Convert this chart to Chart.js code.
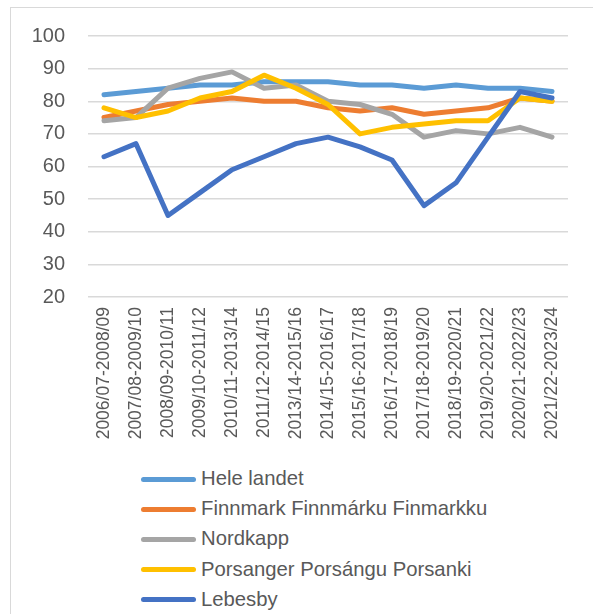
<!DOCTYPE html>
<html>
<head>
<meta charset="utf-8">
<script src="https://cdn.jsdelivr.net/npm/chart.js@4/dist/chart.umd.min.js"></script>
<style>
  body { margin: 0; background: #fff; font-family: "Liberation Sans", Arial, sans-serif; }
  #frame { position: absolute; left: 10px; top: 7px; width: 600px; height: 620px; border: 1px solid #d9d9d9; }
  #wrap { position: absolute; left: 0; top: 0; width: 593px; height: 460px; }
  #legend { position: absolute; left: 141px; top: 464px; }
  .item { position: relative; height: 30.2px; }
  .swatch { position: absolute; left: 0; top: 12.5px; width: 55px; height: 5px; border-radius: 3px; }
  .label { position: absolute; left: 60px; top: 3px; font-size: 20.3px; color: #595959; white-space: nowrap; }
</style>
</head>
<body>
<div id="frame"></div>
<div id="wrap"><canvas id="chart"></canvas></div>
<div id="legend"></div>
<script>
// Treårsperioder
const periods = ['2006/07-2008/09', '2007/08-2009/10', '2008/09-2010/11', '2009/10-2011/12',
  '2010/11-2013/14', '2011/12-2014/15', '2013/14-2015/16', '2014/15-2016/17', '2015/16-2017/18',
  '2016/17-2018/19', '2017/18-2019/20', '2018/19-2020/21', '2019/20-2021/22', '2020/21-2022/23',
  '2021/22-2023/24'];

const seriesNames = ['Hele landet', 'Finnmark Finnmárku Finmarkku', 'Nordkapp',
  'Porsanger Porsángu Porsanki', 'Lebesby'];
const seriesColors = ['#5B9BD5', '#ED7D31', '#A5A5A5', '#FFC000', '#4472C4'];

const heleLandet = [82, 83, 84, 85, 85, 86, 86, 86, 85, 85, 84, 85, 84, 84, 83];
const finnmark   = [75, 77, 79, 80, 81, 80, 80, 78, 77, 78, 76, 77, 78, 81, 80];
const nordkapp   = [74, 75, 84, 87, 89, 84, 85, 80, 79, 76, 69, 71, 70, 72, 69];
const porsanger  = [78, 75, 77, 81, 83, 88, 84, 79, 70, 72, 73, 74, 74, 81, 80];
const lebesby    = [63, 67, 45, 52, 59, 63, 67, 69, 66, 62, 48, 55, 69, 83, 81];

const yTicks = [20, 30, 40, 50, 60, 70, 80, 90, 100];

const seriesValues = [heleLandet, finnmark, nordkapp, porsanger, lebesby];

const datasets = seriesValues.map((vals, i) => ({
  label: seriesNames[i],
  data: vals,
  borderColor: seriesColors[i],
  backgroundColor: seriesColors[i],
  borderWidth: 5,
  borderCapStyle: 'round',
  borderJoinStyle: 'round',
  pointRadius: 0,
  tension: 0,
  fill: false,
  order: seriesValues.length - i   // siste serie tegnes øverst
}));

const txt = '#595959';

new Chart(document.getElementById('chart'), {
  type: 'line',
  data: { labels: periods, datasets: datasets },
  options: {
    responsive: true,
    maintainAspectRatio: false,
    animation: false,
    layout: { padding: { top: 36, right: 25, left: 0, bottom: 0 } },
    plugins: { legend: { display: false }, tooltip: { enabled: false } },
    scales: {
      x: {
        offset: true,
        grid: { display: false, drawTicks: false },
        border: { display: false },
        ticks: {
          color: txt,
          font: { family: '"Liberation Sans", Arial, sans-serif', size: 17.5 },
          minRotation: 90,
          maxRotation: 90,
          autoSkip: false,
          padding: 10
        },
        afterFit: function(scale) { scale.height = 163; }
      },
      y: {
        min: yTicks[0],
        max: yTicks[yTicks.length - 1],
        afterBuildTicks: function(scale) { scale.ticks = yTicks.map(v => ({ value: v })); },
        grid: { color: '#d9d9d9', lineWidth: 1.5, drawTicks: false },
        border: { display: false },
        ticks: {
          color: txt,
          font: { family: '"Liberation Sans", Arial, sans-serif', size: 20 },
          padding: 23
        },
        afterFit: function(scale) { scale.width = 88; }
      }
    }
  }
});

// Legend som liste under diagrammet
const legend = document.getElementById('legend');
seriesNames.forEach((name, i) => {
  const item = document.createElement('div');
  item.className = 'item';
  const sw = document.createElement('div');
  sw.className = 'swatch';
  sw.style.background = seriesColors[i];
  const lb = document.createElement('div');
  lb.className = 'label';
  lb.textContent = name;
  item.appendChild(sw);
  item.appendChild(lb);
  legend.appendChild(item);
});
</script>
</body>
</html>
